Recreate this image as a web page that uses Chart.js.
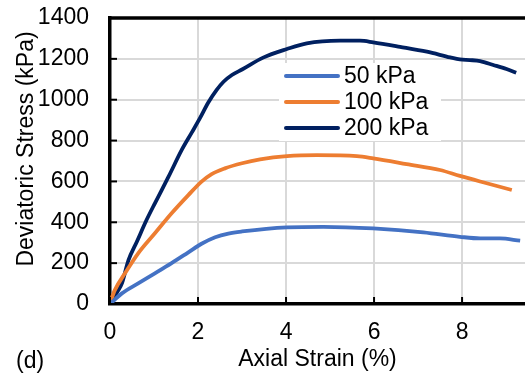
<!DOCTYPE html>
<html>
<head>
<meta charset="utf-8">
<script src="https://cdn.jsdelivr.net/npm/chart.js@4.4.1/dist/chart.umd.min.js"></script>
<style>
  body { margin: 0; background: #fff; }
  #wrap { width: 525px; height: 377px; }
</style>
</head>
<body>
<div id="wrap"><canvas id="myChart" width="525" height="377"></canvas></div>
<script>
// axial strain (%) / deviatoric stress (kPa)
const strain50 = [0, 0.27, 0.64, 1.02, 1.40, 1.78, 2.08, 2.39, 2.69, 3.0, 4.02, 4.85, 5.98, 7.12, 7.95, 8.41, 8.86, 9.32];
const stress50 = [0, 52, 101, 150, 200, 253, 295, 327, 345, 355, 375, 378, 370, 351, 329, 321, 321, 310];

const strain100 = [0, 0.11, 0.34, 0.64, 1.02, 1.40, 1.78, 2.08, 2.31, 2.61, 3.0, 3.41, 4.02, 4.70, 5.61, 5.98, 6.74, 7.5, 7.95, 8.56, 9.13];
const stress100 = [5, 68, 150, 248, 346, 444, 533, 599, 636, 664, 689, 708, 724, 729, 724, 713, 685, 656, 627, 591, 558];

const strain200 = [0, 0.19, 0.27, 0.42, 0.61, 0.83, 1.02, 1.33, 1.63, 1.86, 2.05, 2.23, 2.42, 2.58, 2.77, 3.0, 3.48, 4.02, 4.47, 5.23, 5.68, 5.98, 6.59, 7.2, 7.73, 7.95, 8.18, 8.41, 8.71, 9.01, 9.23];
const stress200 = [0, 68, 101, 215, 305, 411, 493, 623, 754, 840, 912, 985, 1047, 1088, 1121, 1148, 1206, 1248, 1276, 1289, 1289, 1281, 1259, 1235, 1207, 1197, 1194, 1189, 1170, 1150, 1132];

const seriesLabels = ["50 kPa", "100 kPa", "200 kPa"];
const seriesColors = ["#4472C4", "#ED7D31", "#002060"];
const xTicks = [0, 2, 4, 6, 8];
const yTicks = [0, 200, 400, 600, 800, 1000, 1200, 1400];

const FONT = "'Liberation Sans', Arial, sans-serif";

function toPoints(xs, ys) {
  return xs.map((x, i) => ({ x: x, y: ys[i] }));
}

// frame, inner tick marks, legend box and extra labels
const extras = {
  id: "extras",
  afterDatasetsDraw(chart) {
    const ctx = chart.ctx;
    const area = chart.chartArea;
    const xs = chart.scales.x;
    const ys = chart.scales.y;
    ctx.save();

    ctx.strokeStyle = "#000";
    ctx.lineWidth = 3.5;
    ctx.beginPath();
    ctx.moveTo(area.left - 1.5, area.top);
    ctx.lineTo(area.right, area.top);
    ctx.stroke();

    ctx.lineWidth = 2;
    xTicks.forEach(function (v) {
      const px = xs.getPixelForValue(v);
      ctx.beginPath();
      ctx.moveTo(px, area.bottom);
      ctx.lineTo(px, area.bottom - 7);
      ctx.stroke();
    });
    yTicks.forEach(function (v) {
      const py = ys.getPixelForValue(v);
      ctx.beginPath();
      ctx.moveTo(area.left, py);
      ctx.lineTo(area.left + 7, py);
      ctx.stroke();
    });

    // legend
    ctx.fillStyle = "#fff";
    ctx.fillRect(279, 63, 162, 78);
    ctx.font = "23px " + FONT;
    ctx.textAlign = "left";
    ctx.textBaseline = "middle";
    const rows = [76, 102, 128];
    chart.data.datasets.forEach(function (ds, i) {
      ctx.strokeStyle = ds.borderColor;
      ctx.lineWidth = 4;
      ctx.lineCap = "round";
      ctx.beginPath();
      ctx.moveTo(286, rows[i]);
      ctx.lineTo(338, rows[i]);
      ctx.stroke();
      ctx.fillStyle = "#000";
      ctx.fillText(ds.label, 344, rows[i] + 1);
    });

    // y title and panel tag
    ctx.fillStyle = "#000";
    ctx.save();
    ctx.translate(27, 149);
    ctx.rotate(-Math.PI / 2);
    ctx.textAlign = "center";
    ctx.textBaseline = "middle";
    ctx.fillText("Deviatoric Stress (kPa)", 0, 0);
    ctx.restore();

    ctx.textAlign = "left";
    ctx.textBaseline = "alphabetic";
    ctx.fillText("(d)", 16, 368);

    ctx.restore();
  },
};

const ctx = document.getElementById("myChart").getContext("2d");
const myChart = new Chart(ctx, {
  type: "scatter",
  data: {
    datasets: [
      { label: seriesLabels[0], data: toPoints(strain50, stress50), borderColor: seriesColors[0] },
      { label: seriesLabels[1], data: toPoints(strain100, stress100), borderColor: seriesColors[1] },
      { label: seriesLabels[2], data: toPoints(strain200, stress200), borderColor: seriesColors[2] },
    ].map(function (ds) {
      ds.showLine = true;
      ds.borderWidth = 3.8;
      ds.pointRadius = 0;
      ds.cubicInterpolationMode = "monotone";
      ds.backgroundColor = ds.borderColor;
      return ds;
    }),
  },
  options: {
    responsive: false,
    animation: false,
    layout: { padding: { left: 0, right: 0, top: 18, bottom: 0 } },
    plugins: {
      legend: { display: false },
      tooltip: { enabled: false },
    },
    scales: {
      x: {
        type: "linear",
        min: 0,
        max: 9.43,
        afterBuildTicks: function (scale) {
          scale.ticks = xTicks.map(function (v) { return { value: v }; });
        },
        afterFit: function (scale) {
          scale.height = 73;
          scale.paddingLeft = 0;
          scale.paddingRight = 0;
        },
        grid: { color: "#d9d9d9", lineWidth: 2, drawTicks: false },
        border: { color: "#000", width: 3.5 },
        ticks: {
          color: "#000",
          padding: 15,
          font: { family: FONT, size: 23 },
          callback: function (v) { return String(v); },
        },
        title: {
          display: true,
          text: "Axial Strain (%)",
          color: "#000",
          font: { family: FONT, size: 23 },
          padding: { top: 0, bottom: 4 },
        },
      },
      y: {
        min: 0,
        max: 1400,
        afterBuildTicks: function (scale) {
          scale.ticks = yTicks.map(function (v) { return { value: v }; });
        },
        afterFit: function (scale) {
          scale.width = 110;
          scale.paddingTop = 0;
          scale.paddingBottom = 0;
        },
        grid: { color: "#d9d9d9", lineWidth: 2, drawTicks: false },
        border: { color: "#000", width: 3.5 },
        ticks: {
          color: "#000",
          padding: 21,
          font: { family: FONT, size: 23 },
          callback: function (v) { return String(v); },
        },
      },
    },
  },
  plugins: [extras],
});
</script>
</body>
</html>
